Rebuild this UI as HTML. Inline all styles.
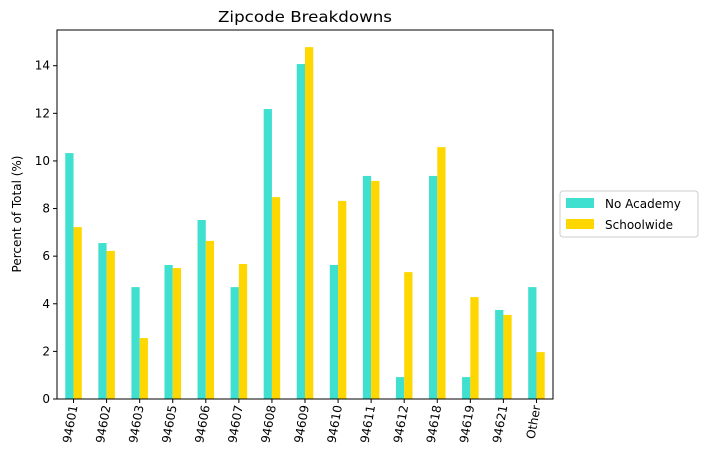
<!DOCTYPE html>
<html><head><meta charset="utf-8"><style>
body{margin:0;background:#fff;font-family:"Liberation Sans","DejaVu Sans",sans-serif;}
svg text{font-family:"DejaVu Sans","Liberation Sans",sans-serif;}
</style></head><body>
<svg id="chart" width="707" height="465">
<text x="305" y="22" font-size="15" text-anchor="middle" textLength="174" lengthAdjust="spacingAndGlyphs">Zipcode Breakdowns</text>
<text transform="translate(21,214) rotate(-90)" font-size="12" text-anchor="middle">Percent of Total (%)</text>
<g id="bars"></g><g id="axes"></g>
<g>
<rect x="560" y="191" width="138" height="46" rx="3" fill="#fff" stroke="#ccc"/>
<rect x="566" y="198" width="28" height="10" fill="#40e0d0"/>
<text x="605" y="208" font-size="12">No Academy</text>
<rect x="566" y="219" width="28" height="10" fill="#ffd700"/>
<text x="605" y="229" font-size="12">Schoolwide</text>
</g>
</svg>
<script>
const categories=["94601","94602","94603","94605","94606","94607","94608","94609","94610","94611","94612","94618","94619","94621","Other"];
const noAcademy=[10.33,6.55,4.70,5.63,7.52,4.70,12.18,14.07,5.63,9.37,0.92,9.37,0.92,3.74,4.70];
const schoolwide=[7.22,6.22,2.56,5.50,6.64,5.67,8.48,14.78,8.32,9.16,5.33,10.58,4.28,3.53,1.97];
const yTicks=[0,2,4,6,8,10,12,14];
const L=57,R=553,T=30,B=399,YMAX=15.5;
const NS="http://www.w3.org/2000/svg";
const y=v=>B-(v/YMAX)*(B-T);
const step=(R-L)/categories.length;
const x=i=>L+step*(i+0.5);
const bw=step*0.25;
function mk(tag,attrs,parent){const e=document.createElementNS(NS,tag);for(const k in attrs)e.setAttribute(k,attrs[k]);parent.appendChild(e);return e;}
const bars=document.getElementById('bars'),axes=document.getElementById('axes');
categories.forEach((c,i)=>{
 let r=mk('rect',{x:x(i)-bw,y:y(noAcademy[i]),width:bw,height:B-y(noAcademy[i]),fill:'#40e0d0'},bars);
 
 
 let s=mk('rect',{x:x(i),y:y(schoolwide[i]),width:bw,height:B-y(schoolwide[i]),fill:'#ffd700'},bars);
 
 
 mk('line',{x1:x(i),x2:x(i),y1:B,y2:B+4,stroke:'#000'},axes);
 let t=mk('text',{transform:`translate(${x(i)+4},${B+7}) rotate(-80)`,'font-size':12,'text-anchor':'end'},axes);
 t.textContent=c;
 
 
});
yTicks.forEach(v=>{
 mk('line',{x1:L-4,x2:L,y1:y(v),y2:y(v),stroke:'#000'},axes);
 let t=mk('text',{x:L-7,y:y(v)+4,'font-size':12,'text-anchor':'end'},axes);
 t.textContent=v;
 
 
});
let f=mk('rect',{x:L,y:T,width:R-L,height:B-T,fill:'none',stroke:'#000','stroke-width':1},axes);


</script>
</body></html>
